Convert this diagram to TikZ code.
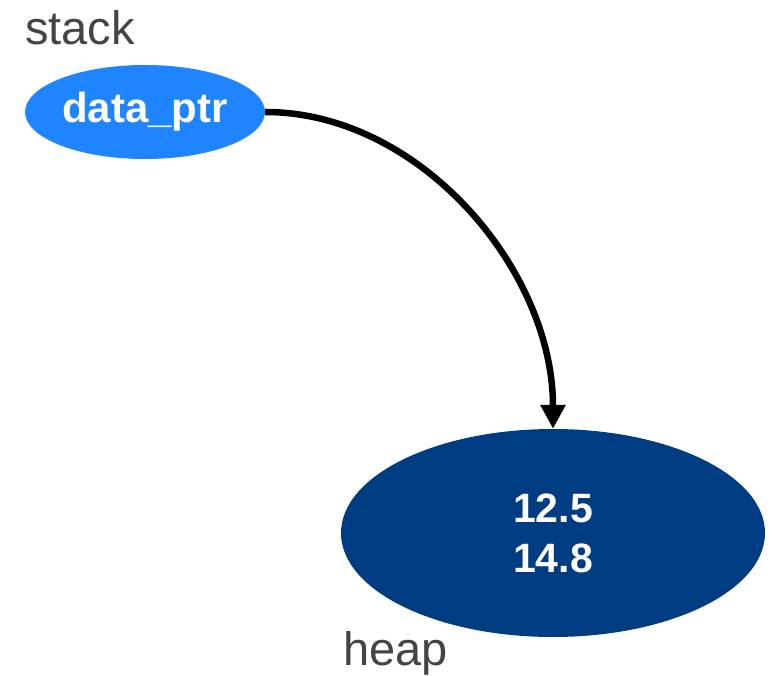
\documentclass[tikz,border=0pt]{standalone}
\usepackage{fontspec}
\setmainfont{Liberation Sans}
\usetikzlibrary{shapes.geometric,arrows.meta}
\definecolor{ptrblue}{RGB}{30,132,255}
\definecolor{heapblue}{RGB}{0,60,130}
\definecolor{lblgray}{RGB}{68,68,68}
\tikzset{
  ptrnode/.style={ellipse,fill=ptrblue,draw=none,inner sep=0pt,minimum width=240pt,minimum height=94pt,text=white,font=\fontsize{42}{50}\selectfont\bfseries},
  heapnode/.style={ellipse,fill=heapblue,draw=none,inner sep=0pt,minimum width=424pt,minimum height=208pt,text=white,align=center,font=\fontsize{41}{50}\selectfont\bfseries},
  regionlabel/.style={anchor=base west,inner sep=0pt,text=lblgray,font=\fontsize{47}{50}\selectfont},
  pointer/.style={line width=6.5pt,-{Triangle[length=24pt,width=24pt]}}
}
\begin{document}
\begin{tikzpicture}[x=1pt,y=-1pt]
\useasboundingbox (0,0) rectangle (777,676);
\node[regionlabel] (stacklbl) at (25,45) {stack};
\node[ptrnode] (ptr) at (145,112) {data\_ptr};
\node[heapnode] (heap) at (553,533) {12.5\\14.8};
\node[regionlabel] (heaplbl) at (343,665) {heap};
\draw[pointer] (ptr.east) .. controls (420,112) and (553,270) .. (heap.north);
\end{tikzpicture}
\end{document}
